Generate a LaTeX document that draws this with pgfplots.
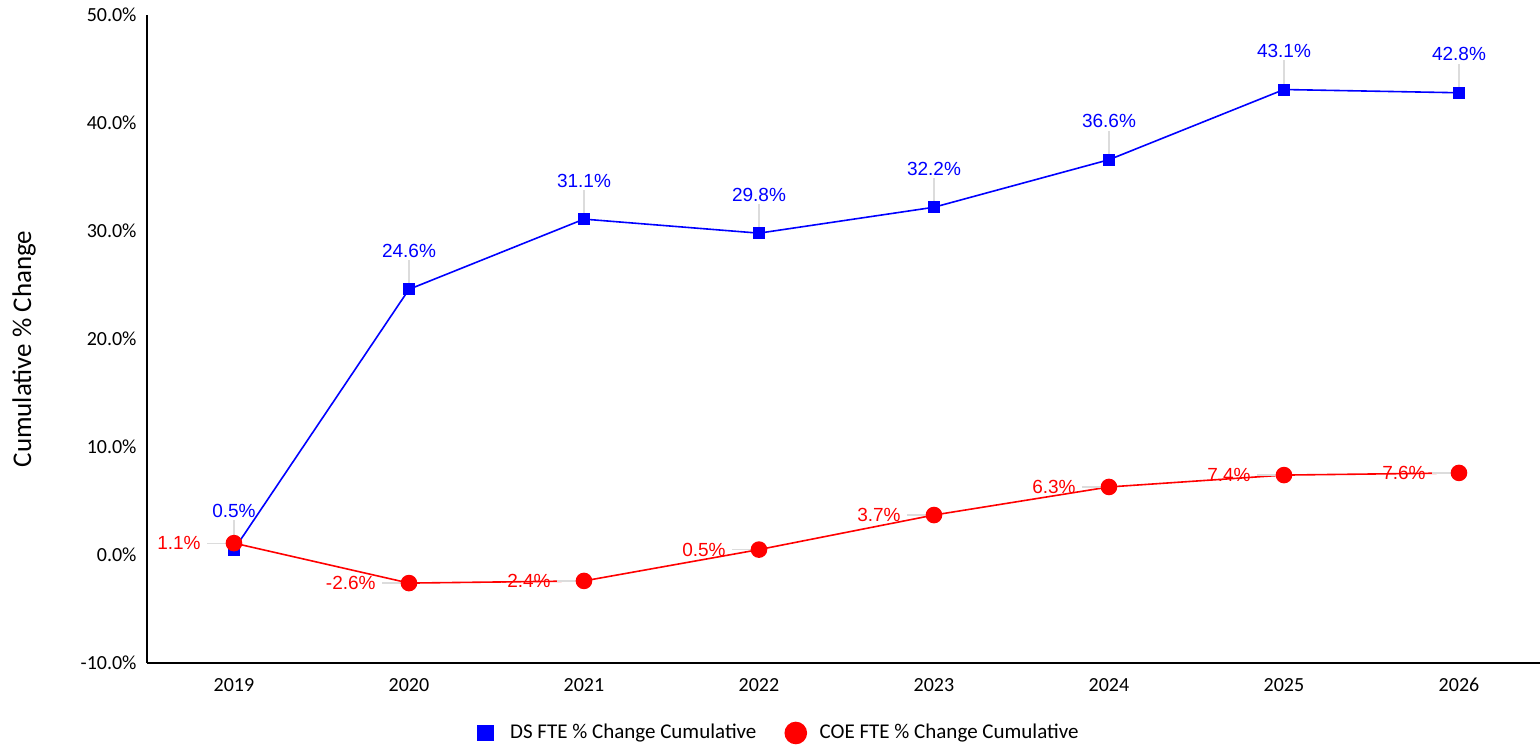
\documentclass[border=0pt]{standalone}
\usepackage{pgfplots}
\pgfplotsset{compat=1.18}
\usepackage{fontspec}
\setmainfont{Carlito}
\newfontfamily\lab{Liberation Sans}
\definecolor{dsblue}{RGB}{0,0,255}
\definecolor{coered}{RGB}{255,0,0}
\definecolor{leader}{RGB}{220,220,220}
\begin{document}
\begin{tikzpicture}
\useasboundingbox (-73.5pt,-40.5pt) rectangle (696.5pt,331.5pt);
\begin{axis}[
  at={(0,0)}, anchor=south west,
  scale only axis, width=696.5pt, height=324pt,
  xmin=-0.497, xmax=7.463, ymin=-10, ymax=50,
  axis x line=bottom, axis y line=left,
  axis line style={-, line width=0.75pt, black},
  major tick length=0pt,
  xtick={0,1,2,3,4,5,6,7},
  xticklabels={2019,2020,2021,2022,2023,2024,2025,2026},
  ytick={-10,0,10,20,30,40,50},
  /pgf/number format/assume math mode=true,
  yticklabel={\pgfmathprintnumber[fixed,fixed zerofill,precision=1]{\tick}\%},
  tick label style={font=\fontsize{10}{12}\selectfont, black},
  y tick label style={xshift=-1.7pt},
  x tick label style={yshift=-4pt},
  ylabel={Cumulative \% Change},
  ylabel style={at={(rel axis cs:0,0.4846)}, anchor=center, rotate=0, yshift=61.5pt, font=\fontsize{13.5}{16}\selectfont},
  legend columns=2,
  legend style={draw=none, fill=none, at={(0.4544,-0.108)}, anchor=center,
    font=\fontsize{10.5}{12}\selectfont,
    /tikz/every even column/.append style={column sep=12pt}},
  clip=false,
]
\addplot[dsblue, line width=0.8pt, mark=square*, mark size=2.6pt, mark options={solid, fill=dsblue},
  legend image code/.code={\path[draw=none,fill=none] (0pt,-4pt) (14pt,4pt); \fill[dsblue] (0pt,-3.75pt) rectangle (7.5pt,3.75pt);},
  error bars/.cd, y dir=plus, y fixed=2.7, error mark=none,
  error bar style={leader, line width=0.6pt}]
  coordinates {(0,0.5) (1,24.6) (2,31.1) (3,29.8) (4,32.2) (5,36.6) (6,43.1) (7,42.8)};
\addlegendentry{DS FTE \% Change Cumulative}
\addplot[coered, line width=0.8pt, mark=*, mark size=3.75pt, mark options={solid, fill=coered},
  legend image code/.code={\path[draw=none,fill=none] (0pt,-4pt) (15.2pt,4pt); \fill[coered] (5.25pt,0pt) circle[radius=5.25pt];},
  error bars/.cd, x dir=minus, x fixed=0.155, error mark=none,
  error bar style={leader, line width=0.6pt}]
  coordinates {(0,1.1) (1,-2.6) (2,-2.4) (3,0.5) (4,3.7) (5,6.3) (6,7.4) (7,7.6)};
\addlegendentry{COE FTE \% Change Cumulative}
% data labels
\addplot[draw=none, mark=none, forget plot,
  nodes near coords={\pgfmathprintnumber[fixed,fixed zerofill,precision=1]{\pgfplotspointmeta}\%},
  every node near coord/.append style={anchor=south, inner sep=0pt, yshift=15.75pt, text=dsblue, font=\lab\fontsize{9.5}{11}\selectfont}]
  coordinates {(0,0.5) (1,24.6) (2,31.1) (3,29.8) (4,32.2) (5,36.6) (6,43.1) (7,42.8)};
\addplot[draw=none, mark=none, forget plot,
  nodes near coords={\pgfmathprintnumber[fixed,fixed zerofill,precision=1]{\pgfplotspointmeta}\%},
  every node near coord/.append style={anchor=east, inner sep=0pt, xshift=-16.5pt, yshift=0pt, text=coered, font=\lab\fontsize{9.5}{11}\selectfont}]
  coordinates {(0,1.1) (1,-2.6) (2,-2.4) (3,0.5) (4,3.7) (5,6.3) (6,7.4) (7,7.6)};
\end{axis}
\end{tikzpicture}
\end{document}
